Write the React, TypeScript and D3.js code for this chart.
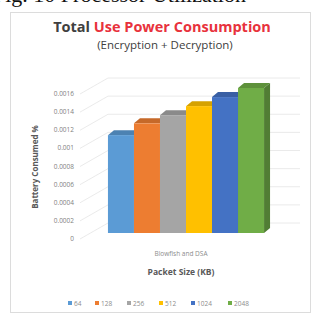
import React from 'react';
import * as d3 from 'd3';

const categories = ['Blowfish and DSA'];
const series = ['64', '128', '256', '512', '1024', '2048'];
const values = [0.00108, 0.00121, 0.0013, 0.0014, 0.0015, 0.0016];
const yTicks = [0, 0.0002, 0.0004, 0.0006, 0.0008, 0.001, 0.0012, 0.0014, 0.0016];
const colors = ['#5B9BD5', '#ED7D31', '#A5A5A5', '#FFC000', '#4472C4', '#70AD47'];

const W = 315, H = 317;
// 3d offsets: back wall and bar placement
const wall = { dx: 28, dy: -16 };
const barOff = { dx: 10, dy: -6 };
const depth = { dx: 6, dy: -5 };

export default function App() {
  const y = d3.scaleLinear().domain([0, 0.0016]).range([239, 94]);
  const x0 = d3.scaleBand().domain(categories).range([80, 272]).paddingInner(0).paddingOuter(0.115);
  const x1 = d3.scaleBand().domain(series).range([0, x0.bandwidth()]).padding(0);
  const bw = x1.bandwidth();
  const fmt = (v: number) => String(+v.toFixed(4));

  // legend layout
  let lx = 68;
  const legend = series.map((s, i) => {
    const item = { s, x: lx, c: colors[i] };
    lx += 8 + s.length * 5 + 9;
    return item;
  });

  const font = 'Open Sans, Noto Sans, sans-serif';

  return (
    <svg width={W} height={H} style={{ position: 'absolute', left: 0, top: 0, background: '#fff' }}>
      <text x={-7} y={2} fontFamily="Liberation Serif, serif" fontSize={22} fill="#111">Fig. 10 Processor Utilization</text>
      <rect x={10.5} y={12.5} width={300} height={300} fill="#fff" stroke="#dcdcdc" />

      <text x={162} y={32} textAnchor="middle" fontFamily={font} fontWeight="bold" fontSize={14.5}>
        <tspan fill="#404040">Total </tspan>
        <tspan fill="#e8323c">Use Power Consumption</tspan>
      </text>
      <text x={165} y={49} textAnchor="middle" fontFamily={font} fontSize={11.5} fill="#404040">(Encryption + Decryption)</text>

      {/* left wall diagonals */}
      {yTicks.map(t => (
        <line key={'d' + t} x1={80} y1={y(t)} x2={80 + wall.dx} y2={y(t) + wall.dy} stroke="#e4e4e4" strokeWidth={0.8} />
      ))}
      {/* back wall gridlines */}
      {yTicks.map(t => (
        <line key={'g' + t} x1={80 + wall.dx} y1={y(t) + wall.dy} x2={272 + wall.dx} y2={y(t) + wall.dy} stroke="#e4e4e4" strokeWidth={0.8} />
      ))}

      {/* tick labels */}
      {yTicks.map(t => (
        <text key={'t' + t} x={74} y={y(t) + 2} textAnchor="end" fontFamily={font} fontSize={6.5} fill="#7f7f7f">{fmt(t)}</text>
      ))}

      <text transform="translate(38,167) rotate(-90)" textAnchor="middle" fontFamily={font} fontWeight="bold" fontSize={8} fill="#595959">Battery Consumed %</text>

      {/* bars */}
      {categories.map(c => (
        <g key={c}>
          {series.map((s, i) => {
            const x = (x0(c) as number) + (x1(s) as number) + barOff.dx;
            const top = y(values[i]) + barOff.dy;
            const bot = y(0) + barOff.dy;
            const col = d3.color(colors[i])!;
            return (
              <g key={s}>
                <path d={`M${x + bw},${top} L${x + bw + depth.dx},${top + depth.dy} L${x + bw + depth.dx},${bot + depth.dy} L${x + bw},${bot} Z`} fill={col.darker(0.9).toString()} />
                <path d={`M${x},${top} L${x + depth.dx},${top + depth.dy} L${x + bw + depth.dx},${top + depth.dy} L${x + bw},${top} Z`} fill={col.darker(0.5).toString()} />
                <rect x={x} y={top} width={bw} height={bot - top} fill={colors[i]} />
              </g>
            );
          })}
          <text x={(x0(c) as number) + x0.bandwidth() / 2 + 5} y={256} textAnchor="middle" fontFamily={font} fontSize={6.5} fill="#8c8c8c">{c}</text>
        </g>
      ))}

      <text x={181} y={275} textAnchor="middle" fontFamily={font} fontWeight="bold" fontSize={8.5} fill="#595959">Packet Size (KB)</text>

      {legend.map(l => (
        <g key={l.s}>
          <rect x={l.x} y={301} width={4} height={4} fill={l.c} />
          <text x={l.x + 6} y={305.5} fontFamily={font} fontSize={6.5} fill="#8c8c8c">{l.s}</text>
        </g>
      ))}
    </svg>
  );
}
